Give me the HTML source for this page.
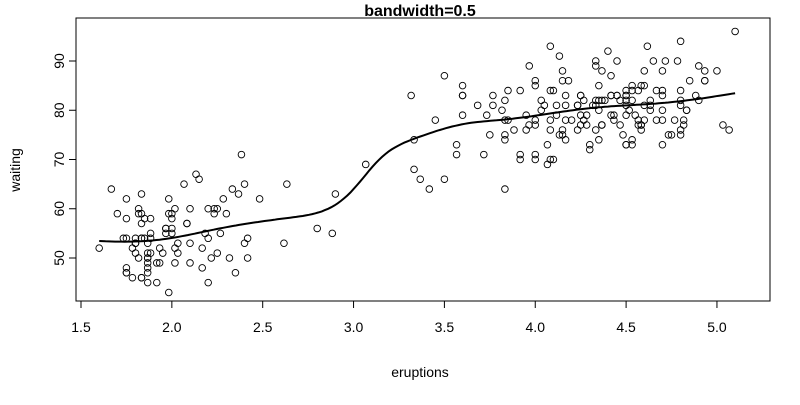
<!DOCTYPE html>
<html><head><meta charset="utf-8"><style>
body{margin:0;background:#fff}
svg text{font-family:"Liberation Sans",Arial,sans-serif}
</style></head><body>
<svg id="c" width="800" height="400" xmlns="http://www.w3.org/2000/svg">
<rect width="800" height="400" fill="#fff"/>
<text x="420" y="16" font-size="16" font-weight="bold" text-anchor="middle">bandwidth=0.5</text>
<text x="420" y="377" font-size="14" text-anchor="middle">eruptions</text>
<text x="0" y="0" font-size="14" text-anchor="middle" transform="translate(20,170) rotate(-90)">waiting</text>
<rect x="76" y="18" width="694" height="283" fill="none" stroke="#000"/>
<g id="axes"></g><g id="pts"></g><g id="line"></g>
</svg>
<script>
const xTicks=[1.5,2.0,2.5,3.0,3.5,4.0,4.5,5.0];
const xTickLabels=["1.5","2.0","2.5","3.0","3.5","4.0","4.5","5.0"];
const yTicks=[50,60,70,80,90];
const yTickLabels=["50","60","70","80","90"];
const eruptions=[3.6,1.8,3.333,2.283,4.533,2.883,4.7,3.6,1.95,4.35,1.833,3.917,4.2,1.75,4.7,2.167,1.75,4.8,1.6,4.25,1.8,1.75,3.45,3.067,4.533,3.6,1.967,4.083,3.85,4.433,4.3,4.467,3.367,4.033,3.833,2.017,1.867,4.833,1.833,4.783,4.35,1.883,4.567,1.75,4.533,3.317,3.833,2.1,4.633,2,4.8,4.716,1.833,4.833,1.733,4.883,3.717,1.667,4.567,4.317,2.233,4.5,1.75,4.8,1.817,4.4,4.167,4.7,2.067,4.7,4.033,1.967,4.5,4,1.983,5.067,2.017,4.567,3.883,3.6,4.133,4.333,4.1,2.633,4.067,4.933,3.95,4.517,2.167,4,2.2,4.333,1.867,4.817,1.833,4.3,4.667,3.75,1.867,4.9,2.483,4.367,2.1,4.5,4.05,1.867,4.7,1.783,4.85,3.683,4.733,2.3,4.9,4.417,1.7,4.633,2.317,4.6,1.817,4.417,2.617,4.067,4.25,1.967,4.6,3.767,1.917,4.5,2.267,4.65,1.867,4.167,2.8,4.333,1.833,4.383,1.883,4.933,2.033,3.733,4.233,2.233,4.533,4.817,4.333,1.983,4.633,2.017,5.1,1.8,5.033,4,2.4,4.6,3.567,4,4.5,4.083,1.8,3.967,2.2,4.15,2,3.833,3.5,4.583,2.367,5,1.933,4.617,1.917,2.083,4.583,3.333,4.167,4.333,4.5,2.417,4,4.167,1.883,4.583,4.25,3.767,2.033,4.433,4.083,1.833,4.417,2.183,4.8,1.833,4.8,4.1,3.966,4.233,3.5,4.366,2.25,4.667,2.1,4.35,4.133,1.867,4.6,1.783,4.367,3.85,1.933,4.5,2.383,4.7,1.867,3.833,3.417,4.233,2.4,4.8,2,4.15,1.867,4.267,1.75,4.483,4,4.117,4.083,4.267,3.917,4.55,4.083,2.417,4.183,2.217,4.45,1.883,1.85,4.283,3.95,2.333,4.15,2.35,4.933,2.9,4.583,3.833,2.083,4.367,2.133,4.35,2.2,4.45,3.567,4.5,4.15,3.817,3.917,4.45,2,4.283,4.767,4.533,1.85,4.25,1.983,2.25,4.75,4.117,2.15,4.417,1.817,4.467];
const waiting=[79,54,74,62,85,55,88,85,51,85,54,84,78,47,83,52,62,84,52,79,51,47,78,69,74,83,55,76,78,79,73,77,66,80,74,52,48,80,59,90,80,58,84,58,73,83,64,53,82,59,75,90,54,80,54,83,71,64,77,81,59,84,48,82,60,92,78,78,65,73,82,56,79,71,62,76,60,78,76,83,75,82,70,65,73,88,76,80,48,86,60,90,50,78,63,72,84,75,51,82,62,88,49,83,81,47,84,52,86,81,75,59,89,79,59,81,50,85,59,87,53,69,77,56,88,81,45,82,55,90,45,83,56,89,46,82,51,86,53,79,81,60,82,77,76,59,80,49,96,53,77,77,65,81,71,70,81,93,53,89,45,86,58,78,66,76,63,88,52,93,49,57,77,68,81,81,73,50,85,74,55,77,83,83,51,78,84,46,83,55,81,57,76,84,77,81,87,77,51,78,60,82,91,53,78,46,77,84,49,83,71,80,49,75,64,76,53,94,55,76,50,82,54,75,78,79,78,78,70,79,70,54,86,50,90,54,54,77,79,64,75,47,86,63,85,82,57,82,67,74,54,83,73,73,88,80,71,83,56,79,78,84,58,83,43,60,75,81,66,83,50,82];
const bandwidth=0.5;
const sx=v=>81+(v-1.5)*181.7;
const sy=v=>258-(v-50)*4.925;
const NS="http://www.w3.org/2000/svg";
function mk(t,a,p){const e=document.createElementNS(NS,t);for(const k in a)e.setAttribute(k,a[k]);p.appendChild(e);return e;}
const ax=document.getElementById('axes');
mk('line',{x1:sx(xTicks[0]),x2:sx(xTicks[xTicks.length-1]),y1:301,y2:301,stroke:'#000'},ax);
xTicks.forEach((t,i)=>{
 const l=mk('line',{x1:sx(t),x2:sx(t),y1:301,y2:308,stroke:'#000'},ax);
 
 
 const tx=mk('text',{x:sx(t),y:332,'font-size':14,'text-anchor':'middle'},ax);tx.textContent=xTickLabels[i];
 
 
});
mk('line',{x1:76,x2:76,y1:sy(yTicks[0]),y2:sy(yTicks[yTicks.length-1]),stroke:'#000'},ax);
yTicks.forEach((t,i)=>{
 const l=mk('line',{x1:69,x2:76,y1:sy(t),y2:sy(t),stroke:'#000'},ax);
 
 
 const tx=mk('text',{x:0,y:0,'font-size':14,'text-anchor':'middle',transform:`translate(64,${sy(t)}) rotate(-90)`},ax);tx.textContent=yTickLabels[i];
 
 
});
const pg=document.getElementById('pts');
eruptions.forEach((e,i)=>{
 const c=mk('circle',{cx:sx(e),cy:sy(waiting[i]),r:3.3,fill:'none',stroke:'#000','stroke-width':0.9},pg);
 
 
});
// kernel smoother (normal kernel, R ksmooth bandwidth convention)
const sd=0.25*bandwidth/0.6745;
const xmin=Math.min(...eruptions),xmax=Math.max(...eruptions);
let d='';
for(let k=0;k<=200;k++){
 const x0=xmin+(xmax-xmin)*k/200;let sw=0,s=0;
 eruptions.forEach((e,i)=>{const w=Math.exp(-0.5*((e-x0)/sd)**2);sw+=w;s+=w*waiting[i];});
 d+=(k?'L':'M')+sx(x0).toFixed(1)+','+sy(s/sw).toFixed(1);
}
const ln=mk('path',{d:d,fill:'none',stroke:'#000','stroke-width':2},document.getElementById('line'));


</script>
</body></html>
